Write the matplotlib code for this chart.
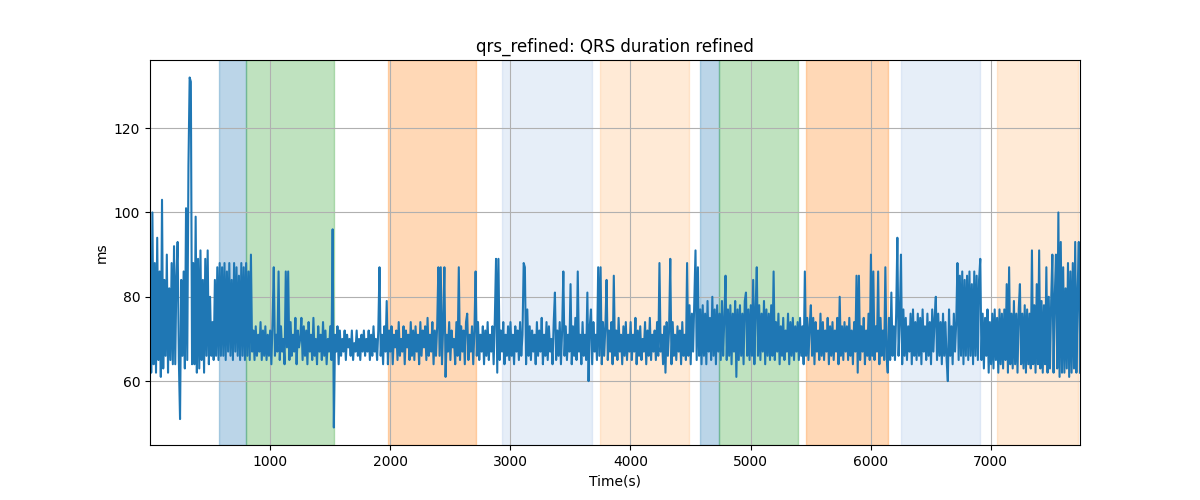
import matplotlib
matplotlib.use("Agg")
import matplotlib.pyplot as plt
import numpy as np

# QRS duration (ms), one sample every 10 s starting at t = 2 s
t_start = 2
t_step = 10
qrs_ms = [
    87, 62, 100, 64, 88, 62, 94, 65, 86, 61, 103, 63, 84, 66, 90, 62, 82, 65, 88, 64,
    92, 64, 85, 93, 65, 51, 84, 66, 86, 63, 101, 65, 111, 132, 131, 64, 88, 64, 99, 62,
    89, 63, 91, 65, 84, 62, 89, 66, 91, 64, 80, 66, 74, 65, 84, 66, 87, 65, 88, 66,
    87, 66, 88, 65, 86, 67, 88, 66, 84, 65, 88, 67, 87, 66, 85, 65, 88, 66, 87, 65,
    88, 66, 86, 65, 90, 67, 72, 65, 73, 66, 71, 67, 74, 65, 72, 66, 73, 65, 71, 66,
    72, 64, 74, 87, 66, 71, 67, 86, 65, 73, 67, 70, 64, 86, 68, 86, 65, 74, 66, 71,
    67, 75, 64, 72, 68, 70, 75, 65, 73, 66, 72, 64, 74, 67, 71, 65, 75, 66, 70, 64,
    73, 67, 71, 65, 74, 66, 72, 64, 70, 67, 73, 65, 96, 49, 71, 67, 73, 64, 72, 66,
    70, 67, 72, 65, 71, 68, 70, 66, 72, 65, 69, 67, 72, 66, 70, 65, 71, 67, 72, 66,
    70, 67, 72, 65, 71, 66, 73, 67, 70, 65, 72, 87, 66, 71, 64, 73, 67, 79, 64, 72,
    67, 73, 64, 71, 68, 72, 65, 74, 66, 70, 67, 73, 64, 72, 68, 71, 65, 74, 66, 72,
    65, 73, 67, 71, 64, 74, 66, 72, 68, 73, 65, 75, 66, 71, 67, 74, 64, 72, 66, 73,
    87, 66, 87, 64, 73, 87, 61, 71, 67, 74, 65, 72, 68, 70, 64, 74, 66, 87, 65, 73,
    67, 72, 64, 74, 76, 65, 71, 67, 73, 64, 72, 86, 66, 74, 65, 71, 67, 73, 64, 72,
    66, 74, 65, 71, 67, 73, 64, 75, 89, 62, 89, 65, 72, 67, 74, 64, 71, 66, 73, 65,
    74, 66, 71, 64, 73, 67, 72, 65, 74, 66, 71, 88, 87, 64, 77, 66, 73, 65, 72, 67,
    71, 64, 74, 66, 72, 67, 75, 64, 71, 66, 74, 65, 73, 67, 70, 64, 74, 81, 65, 72,
    66, 74, 64, 72, 86, 66, 73, 65, 71, 67, 83, 64, 73, 66, 75, 65, 86, 67, 71, 64,
    74, 66, 71, 65, 81, 60, 73, 77, 64, 74, 67, 71, 65, 87, 66, 87, 64, 74, 66, 73,
    84, 65, 72, 67, 74, 64, 85, 66, 72, 65, 75, 67, 71, 64, 73, 66, 74, 65, 71, 67,
    74, 65, 71, 67, 75, 64, 72, 66, 73, 65, 70, 67, 74, 64, 72, 66, 75, 65, 71, 67,
    72, 65, 74, 66, 88, 67, 71, 64, 73, 62, 74, 66, 72, 89, 64, 74, 66, 71, 65, 73,
    67, 72, 64, 74, 66, 71, 65, 88, 66, 78, 64, 76, 67, 79, 91, 65, 87, 66, 77, 64,
    78, 66, 76, 64, 79, 67, 75, 65, 80, 66, 77, 64, 78, 67, 76, 65, 79, 66, 75, 85,
    65, 77, 66, 78, 64, 76, 67, 79, 61, 77, 65, 78, 66, 76, 64, 79, 81, 66, 77, 65,
    78, 66, 84, 64, 77, 87, 66, 78, 65, 76, 67, 79, 64, 77, 66, 76, 65, 78, 66, 86,
    65, 74, 67, 76, 64, 73, 66, 75, 65, 72, 67, 76, 64, 74, 66, 75, 65, 73, 67, 74,
    65, 75, 66, 73, 64, 86, 66, 75, 65, 73, 78, 66, 75, 64, 74, 67, 72, 65, 76, 66,
    74, 65, 72, 67, 75, 64, 73, 66, 74, 65, 72, 67, 75, 64, 80, 66, 73, 65, 74, 67,
    73, 65, 75, 66, 72, 64, 74, 67, 85, 62, 85, 65, 73, 67, 75, 64, 72, 66, 76, 65,
    90, 66, 86, 65, 73, 67, 86, 64, 75, 66, 72, 65, 87, 66, 62, 75, 65, 81, 66, 73,
    65, 76, 94, 66, 74, 90, 64, 77, 66, 75, 65, 73, 67, 76, 64, 77, 66, 74, 65, 76,
    66, 75, 64, 77, 67, 73, 65, 76, 66, 74, 64, 77, 67, 75, 80, 65, 76, 66, 74, 64,
    76, 66, 74, 65, 60, 77, 66, 73, 64, 76, 67, 74, 88, 65, 85, 66, 86, 64, 84, 66,
    85, 65, 86, 66, 83, 64, 86, 66, 85, 65, 84, 89, 65, 76, 63, 75, 66, 77, 62, 74,
    64, 76, 63, 77, 65, 75, 62, 77, 64, 76, 63, 77, 65, 83, 62, 87, 64, 76, 63, 79,
    64, 76, 62, 77, 83, 64, 76, 63, 78, 62, 77, 64, 76, 63, 91, 64, 78, 62, 83, 64,
    91, 63, 79, 62, 78, 64, 87, 62, 80, 63, 79, 90, 62, 80, 90, 63, 100, 61, 93, 62,
    87, 62, 82, 63, 88, 61, 86, 62, 88, 63, 93, 62, 81, 93, 62,
]

# shaded segments (start s, end s, colour)
seg_start = [575, 797, 1983, 2933, 3750, 4583, 4736, 5458, 6250, 7050]
seg_end = [797, 1531, 2714, 3681, 4489, 4736, 5397, 6147, 6908, 7725]
seg_color = ['#1f77b4', '#2ca02c', '#ff7f0e', '#aec7e8', '#ffbb78',
             '#1f77b4', '#2ca02c', '#ff7f0e', '#aec7e8', '#ffbb78']

time_s = t_start + t_step * np.arange(len(qrs_ms))

fig, ax = plt.subplots(figsize=(12, 5), dpi=100)

for s, e, c in zip(seg_start, seg_end, seg_color):
    ax.axvspan(s, e, color=c, alpha=0.3)

ax.plot(time_s, qrs_ms, color='#1f77b4', linewidth=1.5)

ax.set_xlim(time_s[0], time_s[-1])
ax.grid(True)
ax.set_title("qrs_refined: QRS duration refined")
ax.set_xlabel("Time(s)")
ax.set_ylabel("ms")

plt.savefig("out.png")
